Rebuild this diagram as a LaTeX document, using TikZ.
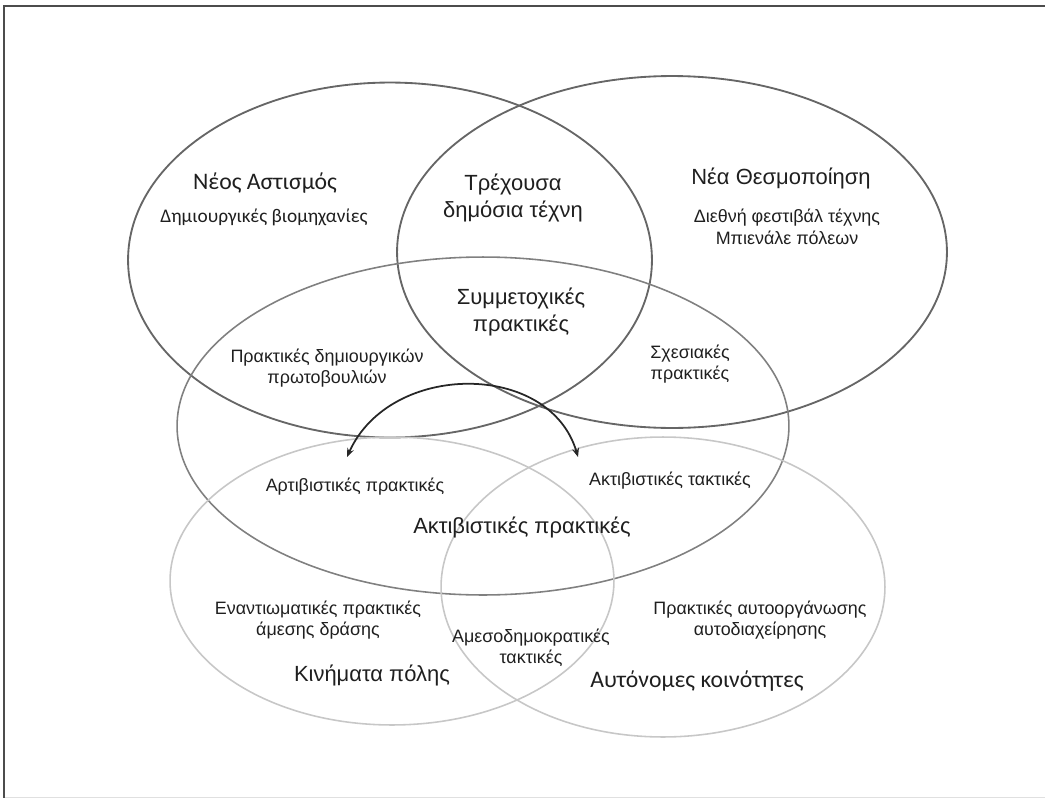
\documentclass[tikz,border=0pt]{standalone}
\usepackage{fontspec}
\setmainfont{Liberation Sans}
\newfontfamily\calfont{Carlito}
\usetikzlibrary{arrows.meta,shapes.geometric}

\begin{document}
\begin{tikzpicture}[x=0.02cm,y=-0.02cm,>={Stealth[length=5pt,width=4pt]},
 darkring/.style={draw=black!60,line width=1.05pt,ellipse,inner sep=0pt},
 midring/.style={draw=black!50,line width=0.9pt,ellipse,inner sep=0pt},
 lightring/.style={draw=black!22,line width=0.9pt,ellipse,inner sep=0pt},
 big/.style={text=black!88,align=center,font=\fontsize{12.5}{15.5}\selectfont},
 bigc/.style={text=black!88,align=center,font=\calfont\fontsize{13.5}{15}\selectfont},
 small/.style={text=black!88,align=center,font=\fontsize{10.2}{12.2}\selectfont},
 smallc/.style={text=black!88,align=center,font=\calfont\fontsize{11}{13}\selectfont}]
\useasboundingbox (0,0) rectangle (1045,798);
% frame
\draw[black!12] (4,797) -- (1045,797);
\draw[black!70,line width=1.2pt] (4,798) -- (4,6) -- (1045,6);
% the five sets
\node[darkring,minimum width=10.48cm,minimum height=7.1cm] (urbanism) at (390,260) {};
\node[darkring,minimum width=11cm,minimum height=7.04cm] (institution) at (672,252) {};
\node[midring,minimum width=12.24cm,minimum height=6.76cm] (activist) at (483,426) {};
\node[lightring,minimum width=8.88cm,minimum height=5.76cm] (movement) at (392,581) {};
\node[lightring,minimum width=8.88cm,minimum height=6cm] (community) at (663,587) {};
% labels
\node[bigc] (neourb) at (265,183) {Νέος Αστισμός};
\node[smallc] (creative) at (264,217) {Δημιουργικές βιομηχανίες};
\node[big] (publicart) at (513,198) {Τρέχουσα\\δημόσια τέχνη};
\node[big] (newinst) at (781,178) {Νέα Θεσμοποίηση};
\node[small] (festival) at (787,227) {Διεθνή φεστιβάλ τέχνης\\Μπιενάλε πόλεων};
\node[big] (particip) at (521,312) {Συμμετοχικές\\πρακτικές};
\node[small] (initiat) at (327,368) {Πρακτικές δημιουργικών\\πρωτοβουλιών};
\node[small] (relational) at (690,364) {Σχεσιακές\\πρακτικές};
\node[small] (artivism) at (355,487) {Αρτιβιστικές πρακτικές};
\node[small] (tactics) at (670,481) {Ακτιβιστικές τακτικές};
\node[big] (activism) at (522,527) {Ακτιβιστικές πρακτικές};
\node[small] (confront) at (318,620) {Εναντιωματικές πρακτικές\\άμεσης δράσης};
\node[small] (directdem) at (531,648) {Αμεσοδημοκρατικές\\τακτικές};
\node[big] (movements) at (372,675) {Κινήματα πόλης};
\node[small] (selforg) at (760,620) {Πρακτικές αυτοοργάνωσης\\αυτοδιαχείρησης};
\node[bigc] (autonomous) at (697,681) {Αυτόνομες κοινότητες};
% two-way link
\coordinate (artL) at (347,457);
\coordinate (artR) at (578,457);
\draw[<->,black!85,line width=1pt] (artL) .. controls +(43,-96) and +(-28,-96) .. (artR);
\end{tikzpicture}
\end{document}
